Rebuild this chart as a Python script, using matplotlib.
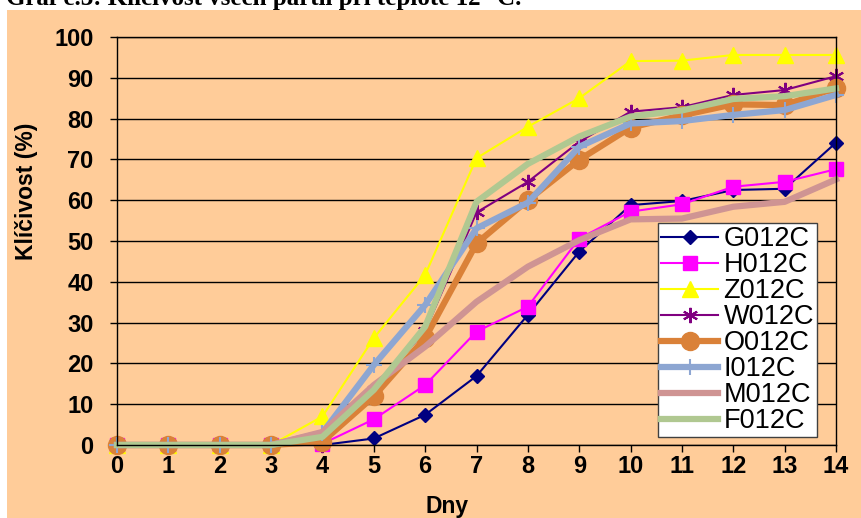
import matplotlib
matplotlib.use("Agg")
import matplotlib.pyplot as plt
from matplotlib.patches import Rectangle

days = list(range(15))
tick_labels = [str(d) for d in days]
series_names = ["G012C", "H012C", "Z012C", "W012C", "O012C", "I012C", "M012C", "F012C"]

G012C = [0, 0, 0, 0, 0, 1.6, 7.4, 16.9, 31.9, 47.4, 58.8, 59.8, 62.5, 62.8, 74.1]
H012C = [0, 0, 0, 0, 0.3, 6.3, 14.7, 27.8, 33.9, 50.6, 57.2, 59.0, 63.3, 64.5, 67.6]
Z012C = [0, 0, 0, 0, 7.0, 26.2, 41.7, 70.3, 78.0, 85.0, 94.1, 94.2, 95.6, 95.6, 95.6]
W012C = [0, 0, 0, 0, 0, 13.5, 28.0, 57.0, 64.5, 74.3, 81.7, 82.8, 85.8, 87.0, 90.4]
O012C = [0, 0, 0, 0, 0.8, 11.9, 26.2, 49.4, 60.0, 69.9, 77.8, 80.8, 83.5, 83.3, 87.5]
I012C = [0, 0, 0, 0, 3.0, 19.6, 34.3, 53.1, 59.4, 73.1, 78.8, 79.4, 80.9, 82.1, 85.8]
M012C = [0, 0, 0, 0, 3.2, 14.7, 24.1, 35.1, 43.7, 50.2, 55.3, 55.5, 58.4, 59.6, 65.1]
F012C = [0, 0, 0, 0, 2.0, 13.5, 29.0, 59.6, 68.9, 75.6, 80.5, 82.0, 84.8, 85.5, 87.4]

values = [G012C, H012C, Z012C, W012C, O012C, I012C, M012C, F012C]

styles = [
    dict(color="#000080", lw=1.5, marker="D", ms=7, mfc="#000080", mec="#000080"),
    dict(color="#FF00FF", lw=1.5, marker="s", ms=10, mfc="#FF00FF", mec="#FF00FF"),
    dict(color="#FFFF00", lw=1.5, marker="^", ms=11, mfc="#FFFF00", mec="#FFFF00"),
    dict(color="#800080", lw=1.5, marker=(6, 2, 0), ms=11, mfc="#800080", mec="#800080", mew=1.5),
    dict(color="#DA8138", lw=4.5, marker="o", ms=13, mfc="#DA8138", mec="#DA8138"),
    dict(color="#8DA6D2", lw=4.5, marker="+", ms=12, mfc="#8DA6D2", mec="#8DA6D2", mew=1.5),
    dict(color="#CF9493", lw=4.5, marker=None),
    dict(color="#B0C891", lw=4.5, marker=None),
]

W, H = 861, 518
fig = plt.figure(figsize=(W / 100, H / 100), dpi=100, facecolor="white")
fig.patches.append(Rectangle((7 / W, 0), 1 - 7 / W, 1 - 10 / H, transform=fig.transFigure,
                             facecolor="#FFCC99", edgecolor="none", zorder=-10))

ax = fig.add_axes([117 / W, 1 - 445 / H, (836 - 117) / W, (445 - 37) / H])
ax.set_facecolor("#FFCC99")

for name, vals, st in zip(series_names, values, styles):
    ax.plot(days, vals, label=name, clip_on=False, **st)

ax.set_xlim(0, 14)
ax.set_ylim(0, 100)
ax.set_xticks(days)
ax.set_xticklabels(tick_labels)
ax.set_yticks(range(0, 101, 10))
ax.yaxis.grid(True, color="black", lw=1)
ax.set_axisbelow(True)
for s in ax.spines.values():
    s.set_color("black")
    s.set_linewidth(1)
ax.tick_params(axis="both", direction="out", length=5, width=1, color="black")
ax.tick_params(axis="y", pad=12)
ax.tick_params(axis="x", pad=2)
for lab in ax.get_xticklabels() + ax.get_yticklabels():
    lab.set_fontfamily("Liberation Sans")
    lab.set_fontweight("bold")
    lab.set_fontsize(17)

fig.text(26 / W, 1 - 191 / H, "Klíčivost (%)", rotation=90, ha="center", va="center",
         fontfamily="Liberation Sans", fontweight="bold", fontsize=16.5)
fig.text(447 / W, 1 - 506 / H, "Dny", ha="center", va="center",
         fontfamily="Liberation Sans", fontweight="bold", fontsize=16.5)

fig.text(6 / W, 1 - 5 / H, "Graf č.3: Klíčivost všech partií při teplotě 12 °C.",
         ha="left", va="baseline", fontfamily="Liberation Serif", fontweight="bold", fontsize=18)

leg = ax.legend(loc="upper left", bbox_to_anchor=(658 / W, 1 - 223 / H),
                bbox_transform=fig.transFigure, borderaxespad=0, borderpad=0.12,
                labelspacing=0.0, handlelength=2.1, handletextpad=0.2,
                prop={"family": "Liberation Sans", "size": 19.5},
                frameon=True, fancybox=False, framealpha=1, facecolor="white",
                edgecolor="#404040")
leg.get_frame().set_linewidth(1)

fig.savefig("out.png", dpi=100, facecolor="white")
